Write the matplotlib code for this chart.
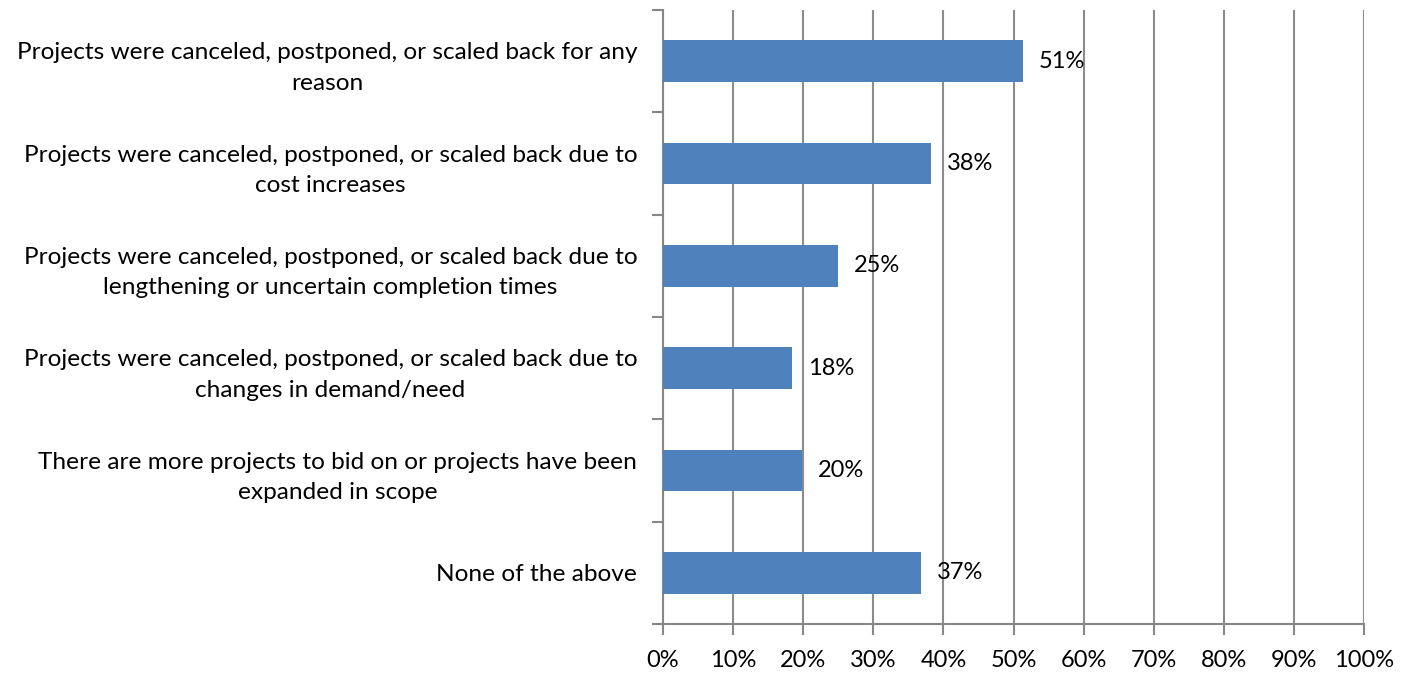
import matplotlib
matplotlib.use("Agg")
import matplotlib.pyplot as plt
import numpy as np

categories = [
    "Projects were canceled, postponed, or scaled back for any\nreason",
    "Projects were canceled, postponed, or scaled back due to\ncost increases",
    "Projects were canceled, postponed, or scaled back due to\nlengthening or uncertain completion times",
    "Projects were canceled, postponed, or scaled back due to\nchanges in demand/need",
    "There are more projects to bid on or projects have been\nexpanded in scope",
    "None of the above",
]
values = [51.3, 38.2, 25.0, 18.4, 19.8, 36.8]
labels = ["51%", "38%", "25%", "18%", "20%", "37%"]
xticks = list(range(0, 101, 10))
xticklabels = [f"{t}%" for t in xticks]

plt.rcParams['font.family'] = ['Lato', 'DejaVu Sans']
fig = plt.figure(figsize=(14.11, 6.73), dpi=100)
ax = fig.add_axes([663/1411, 1-624/673, (1364-663)/1411, (624-10)/673])

n = len(categories)
y = np.arange(n)
ax.barh(y, values, height=0.41, color="#4F81BD", zorder=3)
ax.set_ylim(n - 0.5, -0.5)
ax.set_xlim(0, 100)

for yi, v, lab in zip(y, values, labels):
    ax.text(v + 2.3, yi, lab, va="center", ha="left", fontsize=17, color="black", zorder=4)

ax.set_xticks(xticks)
ax.set_xticklabels(xticklabels, fontsize=17)
ax.set_yticks(y)
ax.set_yticklabels(categories, fontsize=17.6, ha="right", multialignment="center", linespacing=1.55)
ax.tick_params(axis="y", length=0, pad=18.5)
ax.set_yticks(np.arange(-0.5, n, 1.0), minor=True)
ax.tick_params(axis="y", which="minor", length=8, color="#878787", width=1.5)
ax.tick_params(axis="x", length=8, color="#878787", width=1.5, pad=11)

ax.grid(axis="x", color="#8c8c8c", linewidth=1.5, zorder=0)
for s in ["top", "right"]:
    ax.spines[s].set_visible(False)
for s in ["left", "bottom"]:
    ax.spines[s].set_color("#878787")
    ax.spines[s].set_linewidth(1.5)

fig.savefig("out.png", dpi=100)
